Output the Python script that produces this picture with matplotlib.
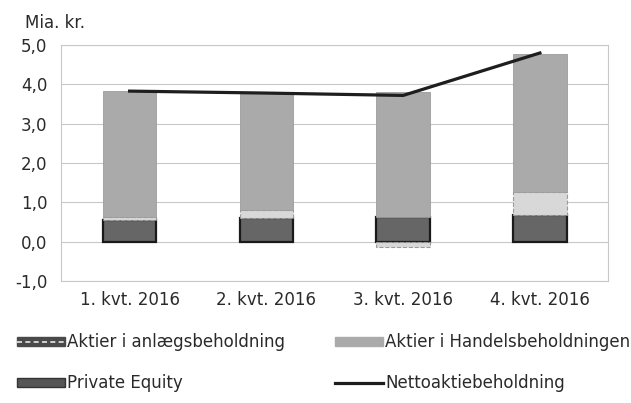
import numpy as np
from matplotlib import pyplot as plt
from matplotlib.ticker import FuncFormatter
from matplotlib.patches import Patch
from matplotlib.lines import Line2D

# values, bn DKK
quarters = ["1. kvt. 2016", "2. kvt. 2016", "3. kvt. 2016", "4. kvt. 2016"]
private_equity = [0.55, 0.60, 0.63, 0.68]
anlaeg = [0.08, 0.20, -0.13, 0.57]
handel = [3.20, 3.00, 3.18, 3.52]
netto = [3.83, 3.78, 3.72, 4.80]

fig = plt.figure(figsize=(6.31, 4.03), dpi=100)
ax = fig.add_axes([0.097, 0.303, 0.867, 0.585])

x = np.arange(len(quarters))
w = 0.39
pe = np.array(private_equity)
an = np.array(anlaeg)
ha = np.array(handel)

ax.bar(x, pe, w, color="#666666", edgecolor="#1a1a1a", linewidth=1.6, zorder=3)
an_bottom = np.where(an >= 0, pe, 0)
ax.bar(x, an, w, bottom=an_bottom, color="#d8d8d8", edgecolor="#9a9a9a",
       linewidth=0.8, linestyle="--", zorder=3)
ha_bottom = pe + np.clip(an, 0, None)
ax.bar(x, ha, w, bottom=ha_bottom, color="#aaaaaa", edgecolor="#9c9c9c",
       linewidth=0.6, zorder=3)
ax.plot(x, netto, color="#1e1e1e", linewidth=2.3, zorder=4)

ax.set_xlim(-0.5, 3.5)
ax.set_ylim(-1, 5)
ax.set_yticks(np.arange(-1, 5.1, 1))
ax.yaxis.set_major_formatter(FuncFormatter(lambda v, p: f"{v:.1f}".replace(".", ",")))
ax.set_xticks(x)
ax.set_xticklabels(quarters)
ax.grid(axis="y", color="#c8c8c8", linewidth=0.8, zorder=0)
ax.tick_params(length=0, labelsize=12, colors="#2a2a2a")
ax.tick_params(axis="y", pad=10)
ax.tick_params(axis="x", pad=7)
for s in ax.spines.values():
    s.set_color("#c8c8c8")
    s.set_linewidth(0.8)

fig.text(0.04, 0.943, "Mia. kr.", fontsize=12, color="#2a2a2a", va="center")

# legend proxies, column-wise: col 1 = anlaeg, PE; col 2 = Handel, Netto
h_anlaeg = (Patch(facecolor="#4a4a4a", edgecolor="#4a4a4a"),
            Line2D([], [], color="#e8e8e8", linestyle=(0, (3, 2)), linewidth=1.2))
h_pe = Patch(facecolor="#555555", edgecolor="#333333")
h_handel = Patch(facecolor="#aaaaaa", edgecolor="#aaaaaa")
h_netto = Line2D([], [], color="#1e1e1e", linewidth=2.3)
fig.legend([h_anlaeg, h_pe, h_handel, h_netto],
           ["Aktier i anlægsbeholdning", "Private Equity",
            "Aktier i Handelsbeholdningen", "Nettoaktiebeholdning"],
           loc="upper left", bbox_to_anchor=(17 / 631, 1 - 333 / 403), ncol=2,
           frameon=False, fontsize=12, columnspacing=3.0, handlelength=2.9,
           handletextpad=0.1, labelspacing=1.4, handleheight=0.45,
           borderpad=0, borderaxespad=0, labelcolor="#2a2a2a")

fig.savefig("out.png")
